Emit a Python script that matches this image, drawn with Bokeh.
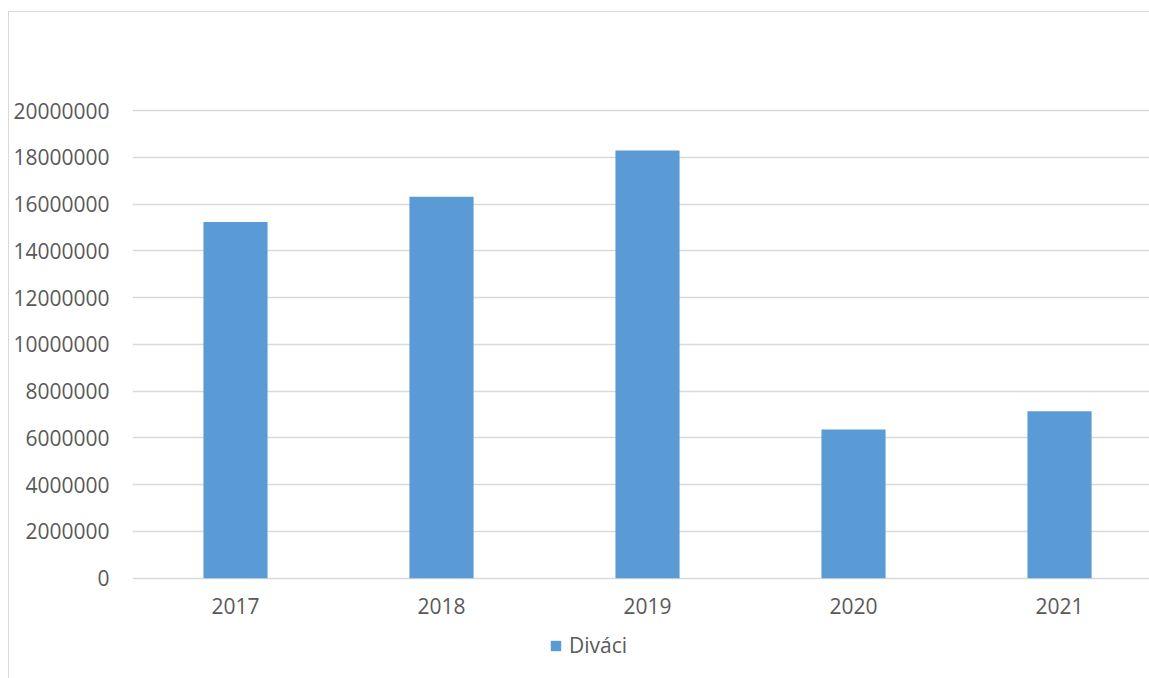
from bokeh.plotting import figure
from bokeh.models import Range1d, FixedTicker, BasicTickFormatter, Legend, LegendItem
from bokeh.embed import file_html
from bokeh.resources import INLINE

years = [2017, 2018, 2019, 2020, 2021]
divaci = [15230000, 16310000, 18290000, 6360000, 7140000]
y_ticks = [0, 2000000, 4000000, 6000000, 8000000, 10000000, 12000000,
           14000000, 16000000, 18000000, 20000000]
series_name = "Diváci"

FONT = "Open Sans"
TXT = "#595959"
GRID = "#d9d9d9"
BAR = "#5B9BD5"

PX = 20000000 / 466.7          # data units per pixel on the y axis
p = figure(width=1141, height=667, output_backend="svg", toolbar_location=None,
           x_axis_location="above",
           x_range=Range1d(2016.5, 2016.5 + 1016 / 205.6),
           y_range=Range1d(-101 * PX, 20000000 + 3 * PX),
           min_border_left=123, min_border_right=0, min_border_top=95,
           min_border_bottom=0)
p.styles = {"border-left": "1px solid #d9d9d9", "border-top": "1px solid #d9d9d9"}
p.margin = (11, 0, 0, 8)
p.outline_line_color = None
p.background_fill_color = "white"
p.border_fill_color = "white"

r = p.vbar(x=years, top=divaci, width=64 / 205.6, fill_color=BAR, line_color=None)

p.xaxis.ticker = FixedTicker(ticks=years)
p.xaxis.formatter = BasicTickFormatter(use_scientific=False)
p.xaxis.fixed_location = 0
p.yaxis.ticker = FixedTicker(ticks=y_ticks)
p.yaxis.formatter = BasicTickFormatter(use_scientific=False)

for ax in (p.xaxis[0], p.yaxis[0]):
    ax.axis_line_color = None
    ax.major_tick_line_color = None
    ax.minor_tick_line_color = None
    ax.major_label_text_font = FONT
    ax.major_label_text_font_size = "21px"
    ax.major_label_text_color = TXT
p.xaxis.major_label_standoff = -42
p.yaxis.major_label_standoff = 17

p.xgrid.grid_line_color = None
p.ygrid.grid_line_color = GRID
p.ygrid.grid_line_width = 1.5

legend = Legend(items=[LegendItem(label=series_name, renderers=[r])],
                location=(417, 20), orientation="horizontal",
                label_text_font=FONT, label_text_font_size="21px",
                label_text_color=TXT, glyph_width=13, glyph_height=13,
                label_standoff=7, border_line_color=None,
                background_fill_alpha=0, padding=0, margin=0)
p.add_layout(legend)

open("out.html", "w").write(file_html(p, INLINE))
